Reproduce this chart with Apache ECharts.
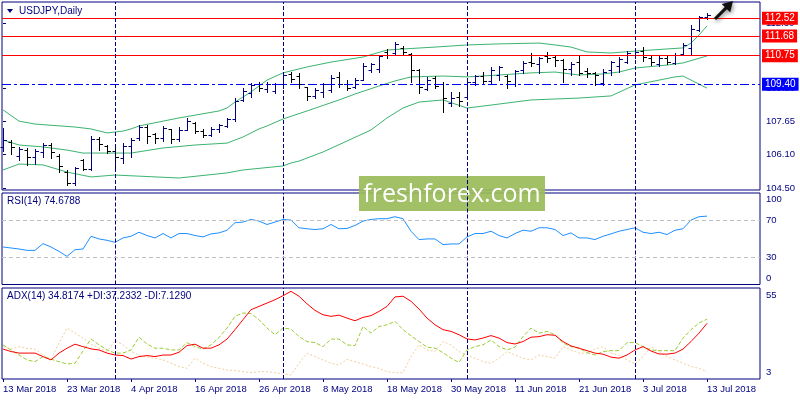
<!DOCTYPE html>
<html><head><meta charset="utf-8">
<script src="https://cdn.jsdelivr.net/npm/echarts@6.0.0/dist/echarts.min.js"></script>
<style>html,body{margin:0;padding:0;background:#fff}#c{width:800px;height:400px}</style>
</head><body><div id="c"></div>
<script>
const dates = [
"13 Mar 2018","14 Mar 2018","15 Mar 2018","16 Mar 2018","19 Mar 2018","20 Mar 2018","21 Mar 2018","22 Mar 2018","23 Mar 2018","26 Mar 2018","27 Mar 2018","28 Mar 2018","29 Mar 2018","30 Mar 2018",
"2 Apr 2018","3 Apr 2018","4 Apr 2018","5 Apr 2018","6 Apr 2018","9 Apr 2018","10 Apr 2018","11 Apr 2018","12 Apr 2018","13 Apr 2018","16 Apr 2018","17 Apr 2018","18 Apr 2018","19 Apr 2018","20 Apr 2018","23 Apr 2018","24 Apr 2018","25 Apr 2018","26 Apr 2018","27 Apr 2018","30 Apr 2018",
"1 May 2018","2 May 2018","3 May 2018","4 May 2018","7 May 2018","8 May 2018","9 May 2018","10 May 2018","11 May 2018","14 May 2018","15 May 2018","16 May 2018","17 May 2018","18 May 2018","21 May 2018","22 May 2018","23 May 2018","24 May 2018","25 May 2018","28 May 2018","29 May 2018","30 May 2018","31 May 2018",
"1 Jun 2018","4 Jun 2018","5 Jun 2018","6 Jun 2018","7 Jun 2018","8 Jun 2018","11 Jun 2018","12 Jun 2018","13 Jun 2018","14 Jun 2018","15 Jun 2018","18 Jun 2018","19 Jun 2018","20 Jun 2018","21 Jun 2018","22 Jun 2018","25 Jun 2018","26 Jun 2018","27 Jun 2018","28 Jun 2018","29 Jun 2018",
"2 Jul 2018","3 Jul 2018","4 Jul 2018","5 Jul 2018","6 Jul 2018","9 Jul 2018","10 Jul 2018","11 Jul 2018","12 Jul 2018","13 Jul 2018"];

const opens = [106.44,106.67,106.01,106.29,105.96,106.20,106.53,106.01,105.25,104.73,105.82,105.40,106.81,106.48,106.25,105.92,106.48,106.86,107.38,107.05,
106.86,107.29,106.81,107.24,107.57,107.19,107.00,107.29,107.43,107.76,108.66,108.99,109.41,109.18,109.08,109.41,109.89,109.79,109.27,108.85,
109.04,109.13,109.75,109.41,109.27,109.60,110.08,110.12,110.93,110.88,111.12,110.83,110.08,109.18,109.70,109.41,108.52,108.80,108.80,109.51,
109.79,109.56,109.84,109.79,109.41,110.08,110.45,110.36,110.74,110.69,110.55,110.12,110.45,110.03,109.94,109.46,110.08,110.27,110.45,110.79,
110.97,110.64,110.36,110.64,110.41,110.83,111.12,111.97,112.58];
const highs = [107.33,106.77,106.44,106.39,106.34,106.62,106.62,106.10,105.35,105.49,105.87,106.96,106.91,106.53,106.48,106.62,106.86,107.48,107.48,107.10,
107.43,107.29,107.38,107.81,107.62,107.29,107.38,107.52,107.81,108.75,109.22,109.46,109.51,109.51,109.46,109.94,109.98,109.94,109.27,109.22,
109.46,109.84,109.98,109.60,109.70,110.41,110.41,110.79,111.07,111.40,111.21,110.88,110.12,109.75,109.79,109.51,109.04,109.04,109.70,109.84,
109.98,110.22,110.27,109.84,110.08,110.50,110.88,110.69,110.93,110.74,110.60,110.45,110.79,110.17,109.98,110.12,110.50,110.69,110.97,111.02,
111.16,110.74,110.74,110.79,110.88,111.35,112.20,112.63,112.77];
const lows = [106.25,106.10,105.82,105.59,105.63,105.96,105.92,105.25,104.64,104.64,105.35,105.35,106.29,106.15,105.49,105.68,105.96,106.77,106.62,106.62,
106.72,106.62,106.72,107.24,107.10,106.91,106.96,107.15,107.38,107.66,108.61,108.80,109.08,109.04,108.99,109.22,109.51,109.22,108.66,108.75,
108.80,109.04,109.27,109.13,109.22,109.60,109.98,109.98,110.64,110.79,110.79,109.51,108.99,109.13,109.22,108.09,108.37,108.37,108.71,109.37,
109.41,109.41,109.60,109.22,109.32,109.94,110.27,109.94,110.45,110.27,109.51,109.84,109.84,109.75,109.37,109.37,109.84,109.98,110.41,110.64,
110.50,110.31,110.27,110.36,110.36,110.79,110.79,111.92,112.49];
const closes = [106.77,106.44,106.34,105.96,106.25,106.53,106.20,105.54,104.73,105.44,105.40,106.81,106.58,106.25,105.96,106.48,106.77,107.38,106.96,106.86,
107.33,106.81,107.24,107.66,107.19,107.00,107.29,107.48,107.76,108.61,109.08,109.37,109.22,109.41,109.41,109.84,109.65,109.41,108.85,109.13,
109.41,109.70,109.41,109.22,109.60,110.27,110.36,110.74,110.79,111.31,110.93,110.08,109.27,109.60,109.32,108.75,108.75,108.61,109.51,109.79,
109.56,110.08,110.22,109.56,110.03,110.41,110.41,110.64,110.64,110.55,110.12,110.36,109.94,109.94,109.84,109.98,110.45,110.60,110.88,110.93,
110.69,110.45,110.64,110.45,110.79,111.26,112.01,112.58,112.68];

const bbUpper = [[0,108.19],[2,107.66],[4,107.52],[9,107.38],[11,107.29],[13,107.10],[15,107.19],[16,107.29],[17,107.43],[22,107.81],[27,108.14],[28,108.28],[29,108.56],[31,109.04],[32,109.32],[33,109.60],[35,109.94],[38,110.22],[41,110.45],[45,110.69],[48,111.02],[50,111.07],[54,111.16],[58,111.26],[62,111.31],[67,111.35],[69,111.26],[71,111.16],[73,110.93],[76,110.88],[79,110.97],[85,111.12],[86,111.35],[87,111.73],[88,112.16]];
const bbMiddle = [[0,106.77],[2,106.53],[5,106.44],[8,106.29],[10,106.15],[16,106.15],[20,106.39],[24,106.53],[28,106.62],[30,106.91],[32,107.29],[33,107.43],[35,107.76],[38,108.14],[42,108.66],[44,108.94],[47,109.32],[49,109.56],[51,109.75],[55,109.79],[58,109.75],[62,109.84],[66,109.94],[69,109.98],[72,109.84],[75,109.89],[77,109.98],[79,110.17],[83,110.31],[85,110.41],[88,110.74]];
const bbLower = [[0,105.35],[2,105.63],[5,105.59],[8,105.25],[11,105.02],[14,105.11],[22,104.97],[28,105.21],[30,105.35],[35,105.54],[36,105.68],[37,105.77],[40,106.20],[43,106.72],[46,107.24],[48,107.81],[50,108.28],[52,108.56],[55,108.66],[58,108.28],[60,108.37],[66,108.66],[72,108.75],[76,108.85],[79,109.37],[84,109.75],[85,109.79],[88,109.22]];

const rsi = [41.0,39.9,38.8,37.3,37.3,44.7,41.0,36.2,30.7,38.0,38.8,52.7,49.8,48.3,46.1,50.9,52.7,57.1,53.5,50.9,
55.7,50.9,55.7,55.7,53.5,52.0,55.3,56.4,59.3,67.5,68.2,71.1,69.3,65.6,68.2,71.1,70.4,62.0,60.9,60.1,
60.9,65.6,60.9,61.3,64.5,69.3,71.1,71.9,71.9,74.1,71.9,58.2,49.1,49.8,49.8,43.6,44.3,44.3,52.0,55.7,
55.7,58.2,53.5,50.9,55.7,59.3,58.2,62.0,62.0,60.1,53.5,56.4,50.9,50.9,49.1,52.7,55.3,58.2,60.1,62.0,
57.1,55.7,57.1,54.6,59.3,60.9,70.4,74.1,74.7];

const adx = [20.1,18.7,17.8,17.8,17.8,15.8,13.9,17.8,20.6,22.9,21.5,20.2,19.6,17.8,16.7,16.4,14.4,15.8,16.4,15.8,
16.7,16.7,18.3,22.1,22.9,20.6,20.6,22.5,25.8,31.2,36.9,42.6,44.5,46.4,48.3,50.6,53.1,50.3,46.0,42.2,
39.7,38.8,39.5,37.8,36.3,38.2,39.2,41.6,44.5,49.9,50.3,47.4,43.0,37.8,34.0,31.2,30.2,28.3,25.9,25.3,
26.4,27.8,26.4,23.8,23.0,24.4,26.9,27.2,28.3,28.0,24.4,21.9,20.6,19.2,17.8,17.2,15.5,14.9,16.7,19.6,
21.5,19.0,17.3,17.2,17.8,20.1,24.4,29.2,34.8];
const plusDI = [22.5,19.6,16.7,13.9,12.9,15.8,14.3,12.9,11.6,12.0,19.0,25.9,22.5,19.6,17.8,17.8,19.6,26.9,23.0,20.6,
20.6,19.6,19.6,23.8,21.5,20.1,22.5,26.7,32.1,38.8,40.7,40.4,36.9,32.1,28.3,32.1,31.5,27.3,24.4,23.8,
21.5,25.8,25.8,22.5,22.1,33.0,29.2,33.0,34.0,35.9,31.2,27.7,24.4,21.2,20.6,18.1,14.9,12.5,19.6,21.5,
22.5,25.3,21.5,19.6,21.2,27.2,32.1,29.2,30.2,28.3,23.5,21.5,20.6,18.1,16.7,18.7,19.2,19.2,23.8,23.8,
21.5,19.6,19.2,19.2,19.2,26.4,31.2,35.0,37.2];
const minusDI = [21.5,20.1,21.5,20.5,20.1,16.7,14.3,23.5,32.1,29.2,26.4,22.9,20.6,18.7,25.0,22.5,18.7,16.7,15.5,14.9,
13.9,12.0,10.1,9.1,14.9,12.0,10.1,9.1,8.1,7.8,7.2,6.6,7.2,7.2,6.6,5.9,5.3,12.0,17.8,15.8,
13.9,12.0,11.0,14.3,12.9,11.6,10.1,9.1,7.2,6.6,6.6,15.8,22.5,19.6,18.7,24.4,22.5,18.7,16.7,14.9,
12.9,12.0,14.9,18.7,16.7,14.9,13.9,16.7,15.8,14.9,21.5,19.6,17.8,17.8,20.1,21.5,17.8,16.7,13.9,11.6,
15.8,21.5,18.7,15.8,13.9,12.0,10.1,9.1,7.1];

const redLevels = [112.52, 111.68, 110.75];
const blueLevel = 109.40;
const separators = [14, 35, 58, 79];
const priceTicks = [104.50, 106.10, 107.65, 109.20, 110.75, 112.30];
const dateTicks = [0, 8, 16, 24, 32, 40, 48, 56, 64, 72, 80, 88];
const rsiLevels = [70, 30];

const FONT = '"Liberation Sans", Arial, sans-serif';
const NAVY = '#000080';
const ohlcRows = dates.map((d, i) => [i, opens[i], highs[i], lows[i], closes[i]]);

function renderOHLC(params, api) {
  const i = api.value(0), o = api.value(1), h = api.value(2), l = api.value(3), c = api.value(4);
  const pH = api.coord([i, h]), pL = api.coord([i, l]), pO = api.coord([i, o]), pC = api.coord([i, c]);
  const x = Math.floor(pH[0] + 0.01) + 0.5;
  const color = c >= o ? NAVY : '#000000';
  const yO = Math.round(pO[1]) + 0.5, yC = Math.round(pC[1]) + 0.5;
  const st = { stroke: color, lineWidth: 1 };
  return { type: 'group', children: [
    { type: 'line', shape: { x1: x, y1: Math.round(pH[1]), x2: x, y2: Math.round(pL[1]) + 1 }, style: st },
    { type: 'line', shape: { x1: x - 3, y1: yO, x2: x, y2: yO }, style: st },
    { type: 'line', shape: { x1: x, y1: yC, x2: x + 3.5, y2: yC }, style: st }
  ]};
}

const sepLine = separators.map(v => ({ xAxis: v, lineStyle: { color: NAVY, type: [4, 2], width: 1 }, label: { show: false } }));
const lvlLabel = (bg) => ({ show: true, position: 'end', distance: 2, color: '#fff', backgroundColor: bg, padding: [2, 3, 1, 3], fontSize: 10, fontFamily: FONT });

const priceMarks = redLevels.map(v => ({ yAxis: v, lineStyle: { color: '#ff0000', type: 'solid', width: 1 }, label: Object.assign(lvlLabel('#ff0000'), { formatter: v.toFixed(2) }) }));
priceMarks.push({ yAxis: blueLevel, lineStyle: { color: '#0000ff', type: [9, 3, 3, 3], width: 1 }, label: Object.assign(lvlLabel('#0000ff'), { formatter: blueLevel.toFixed(2) }) });

const xBase = { type: 'value', min: -0.125, max: 94.625, splitLine: { show: false } };
const gridBase = { left: 2, width: 758, show: true, borderColor: NAVY, borderWidth: 1, backgroundColor: 'transparent' };
const axisLbl = { color: NAVY, fontSize: 9.5, fontFamily: FONT };

const chart = echarts.init(document.getElementById('c'), null, { renderer: 'canvas', width: 800, height: 400 });
chart.setOption({
  animation: false,
  backgroundColor: '#ffffff',
  grid: [
    Object.assign({ top: 2, height: 188 }, gridBase),
    Object.assign({ top: 193, height: 91.5 }, gridBase),
    Object.assign({ top: 288, height: 91 }, gridBase)
  ],
  xAxis: [
    Object.assign({ gridIndex: 0, show: false }, xBase),
    Object.assign({ gridIndex: 1, show: false }, xBase),
    Object.assign({ gridIndex: 2, axisLine: { show: false },
      axisTick: { show: true, customValues: dateTicks, length: 3, lineStyle: { color: NAVY } },
      axisLabel: Object.assign({ customValues: dateTicks, formatter: v => dates[Math.round(v)] || '', align: 'left', margin: 5 }, axisLbl) }, xBase)
  ],
  yAxis: [
    { gridIndex: 0, type: 'value', position: 'right', min: 104.403, max: 113.291, splitLine: { show: false }, axisLine: { show: false },
      axisTick: { show: true, customValues: priceTicks, length: 3, lineStyle: { color: NAVY } },
      axisLabel: Object.assign({ customValues: priceTicks, formatter: v => v.toFixed(2), margin: 6 }, axisLbl) },
    { gridIndex: 1, type: 'value', position: 'right', min: 0, max: 100, splitLine: { show: false }, axisLine: { show: false },
      axisTick: { show: true, customValues: rsiLevels, length: 3, lineStyle: { color: NAVY } },
      axisLabel: Object.assign({ customValues: [93.4, 70, 30, 7.1], formatter: v => v > 90 ? '100' : (v < 10 ? '0' : String(Math.round(v))), margin: 6 }, axisLbl) },
    { gridIndex: 2, type: 'value', position: 'right', min: 3, max: 55, splitLine: { show: false }, axisLine: { show: false },
      axisTick: { show: false },
      axisLabel: Object.assign({ customValues: [51, 6.8], formatter: v => v > 30 ? '55' : '3', margin: 6 }, axisLbl) }
  ],
  series: [
    { type: 'custom', name: 'USDJPY', xAxisIndex: 0, yAxisIndex: 0, data: ohlcRows, encode: { x: 0, y: [1, 2, 3, 4] }, renderItem: renderOHLC, z: 4,
      markLine: { silent: true, symbol: ['none', 'none'], animation: false, data: priceMarks } },
    { type: 'line', name: 'BB upper', xAxisIndex: 0, yAxisIndex: 0, data: bbUpper, showSymbol: false, lineStyle: { color: '#3cb371', width: 1 }, z: 3 },
    { type: 'line', name: 'BB middle', xAxisIndex: 0, yAxisIndex: 0, data: bbMiddle, showSymbol: false, lineStyle: { color: '#3cb371', width: 1 }, z: 3,
      markLine: { silent: true, symbol: ['none', 'none'], animation: false, data: sepLine } },
    { type: 'line', name: 'BB lower', xAxisIndex: 0, yAxisIndex: 0, data: bbLower, showSymbol: false, lineStyle: { color: '#3cb371', width: 1 }, z: 3 },
    { type: 'line', name: 'RSI', xAxisIndex: 1, yAxisIndex: 1, data: rsi.map((v, i) => [i, v]), showSymbol: false, lineStyle: { color: '#1e90ff', width: 1 },
      markLine: { silent: true, symbol: ['none', 'none'], animation: false,
        data: sepLine.concat(rsiLevels.map(v => ({ yAxis: v, lineStyle: { color: '#c0c0c0', type: [4, 3], width: 1 }, label: { show: false } }))) } },
    { type: 'line', name: 'ADX', xAxisIndex: 2, yAxisIndex: 2, data: adx.map((v, i) => [i, v]), showSymbol: false, lineStyle: { color: '#ff0000', width: 1 }, z: 4,
      markLine: { silent: true, symbol: ['none', 'none'], animation: false, data: sepLine } },
    { type: 'line', name: '+DI', xAxisIndex: 2, yAxisIndex: 2, data: plusDI.map((v, i) => [i, v]), showSymbol: false, lineStyle: { color: '#9acd32', width: 1, type: [4, 2] }, z: 3 },
    { type: 'line', name: '-DI', xAxisIndex: 2, yAxisIndex: 2, data: minusDI.map((v, i) => [i, v]), showSymbol: false, lineStyle: { color: '#f2cf9c', width: 1, type: [2, 2] }, z: 2 }
  ],
  graphic: [
    { type: 'polygon', shape: { points: [[7, 9], [13, 9], [10, 13]] }, style: { fill: NAVY } },
    { type: 'text', x: 19, y: 11, style: { text: 'USDJPY,Daily', fill: NAVY, font: '10px ' + FONT, verticalAlign: 'middle' } },
    { type: 'text', x: 7, y: 201.5, style: { text: 'RSI(14) 74.6788', fill: NAVY, font: '10px ' + FONT, verticalAlign: 'middle' } },
    { type: 'text', x: 7, y: 296.5, style: { text: 'ADX(14) 34.8174 +DI:37.2332 -DI:7.1290', fill: NAVY, font: '10px ' + FONT, verticalAlign: 'middle' } },
    { type: 'group', z: 100, children: [
      { type: 'rect', shape: { x: 359, y: 176, width: 186, height: 35 }, style: { fill: '#9bbb59', opacity: 0.93 } },
      { type: 'text', x: 452, y: 195, style: { text: 'freshforex.com', fill: '#ffffff', font: '25px "Open Sans", sans-serif', align: 'center', verticalAlign: 'middle' } }
    ] },
    { type: 'polygon', z: 100, shape: { points: [[733, 1], [730.2, 12.3], [727, 9.2], [716.1, 20.1], [713.9, 17.9], [724.8, 7.0], [721.7, 3.9]] },
      style: { fill: '#111111', shadowBlur: 4, shadowColor: 'rgba(0,0,0,0.45)', shadowOffsetX: 1, shadowOffsetY: 2 } }
  ]
});
</script></body></html>
